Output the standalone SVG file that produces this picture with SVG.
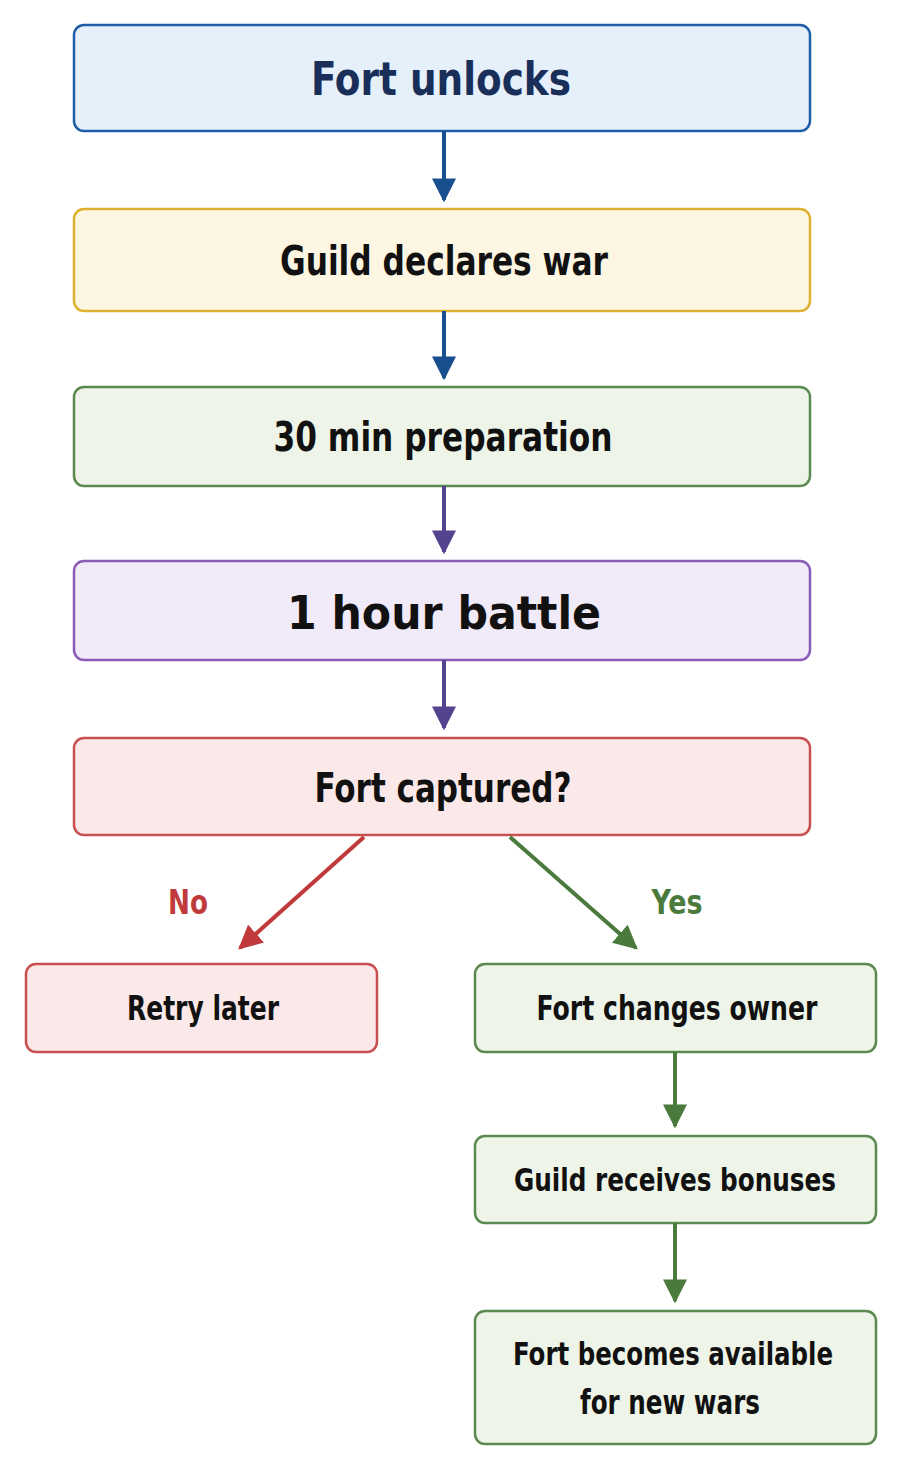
<svg xmlns="http://www.w3.org/2000/svg" width="900" height="1480" viewBox="0 0 900 1480">
<style>
text{font-family:"DejaVu Sans Condensed","DejaVu Sans",sans-serif;text-anchor:middle;dominant-baseline:central;fill:#111;font-weight:bold}
.b{stroke-width:2.5}
.c{stroke-width:4;fill:none}
</style>
<defs>
<marker id="ab" viewBox="0 0 10 10" refX="9" refY="5" markerWidth="6" markerHeight="6" orient="auto" markerUnits="strokeWidth"><path d="M0,0L10,5L0,10z" fill="#1a4f8f"/></marker>
<marker id="ap" viewBox="0 0 10 10" refX="9" refY="5" markerWidth="6" markerHeight="6" orient="auto" markerUnits="strokeWidth"><path d="M0,0L10,5L0,10z" fill="#54438f"/></marker>
<marker id="ar" viewBox="0 0 10 10" refX="9" refY="5" markerWidth="6" markerHeight="6" orient="auto" markerUnits="strokeWidth"><path d="M0,0L10,5L0,10z" fill="#c0393b"/></marker>
<marker id="ag" viewBox="0 0 10 10" refX="9" refY="5" markerWidth="6" markerHeight="6" orient="auto" markerUnits="strokeWidth"><path d="M0,0L10,5L0,10z" fill="#4a7a3c"/></marker>
</defs>
<rect width="900" height="1480" fill="#fff"/>
<g id="n1"><rect class="b" x="74" y="25" width="736" height="106" rx="10" fill="#e6f0fb" stroke="#1f5fa8"/><text x="441" y="79" font-size="46" textLength="260" lengthAdjust="spacingAndGlyphs" style="fill:#1a2e5a">Fort unlocks</text></g>
<g id="n2"><rect class="b" x="74" y="209" width="736" height="102" rx="10" fill="#fdf6e3" stroke="#e0b030"/><text x="444" y="261" font-size="40" textLength="328" lengthAdjust="spacingAndGlyphs">Guild declares war</text></g>
<g id="n3"><rect class="b" x="74" y="387" width="736" height="99" rx="10" fill="#eef5e8" stroke="#5a8a50"/><text x="443" y="437" font-size="40" textLength="339" lengthAdjust="spacingAndGlyphs">30 min preparation</text></g>
<g id="n4"><rect class="b" x="74" y="561" width="736" height="99" rx="10" fill="#f1eaf8" stroke="#8a5cb8"/><text x="444" y="613" font-size="46" textLength="314" lengthAdjust="spacingAndGlyphs">1 hour battle</text></g>
<g id="n5"><rect class="b" x="74" y="738" width="736" height="97" rx="10" fill="#fbe8e8" stroke="#c85050"/><text x="443" y="788" font-size="40" textLength="257" lengthAdjust="spacingAndGlyphs">Fort captured?</text></g>
<g id="n6"><rect class="b" x="26" y="964" width="351" height="88" rx="10" fill="#fbe8e8" stroke="#c85050"/><text x="203" y="1008" font-size="34" textLength="152" lengthAdjust="spacingAndGlyphs">Retry later</text></g>
<g id="n7"><rect class="b" x="475" y="964" width="401" height="88" rx="10" fill="#eef5e8" stroke="#5a8a50"/><text x="677" y="1008" font-size="34" textLength="281" lengthAdjust="spacingAndGlyphs">Fort changes owner</text></g>
<g id="n8"><rect class="b" x="475" y="1136" width="401" height="87" rx="10" fill="#eef5e8" stroke="#5a8a50"/><text x="675" y="1180" font-size="32" textLength="322" lengthAdjust="spacingAndGlyphs">Guild receives bonuses</text></g>
<g id="n9"><rect class="b" x="475" y="1311" width="401" height="133" rx="10" fill="#eef5e8" stroke="#5a8a50"/><text x="673" y="1354" font-size="32" textLength="320" lengthAdjust="spacingAndGlyphs">Fort becomes available</text><text x="670" y="1402" font-size="34" textLength="180" lengthAdjust="spacingAndGlyphs">for new wars</text></g>
<g id="connectors">
<line class="c" x1="444" y1="131" x2="444" y2="200" stroke="#1a4f8f" marker-end="url(#ab)"/>
<line class="c" x1="444" y1="311" x2="444" y2="378" stroke="#1a4f8f" marker-end="url(#ab)"/>
<line class="c" x1="444" y1="486" x2="444" y2="552" stroke="#54438f" marker-end="url(#ap)"/>
<line class="c" x1="444" y1="660" x2="444" y2="728" stroke="#54438f" marker-end="url(#ap)"/>
<line class="c" x1="364" y1="837" x2="240" y2="948" stroke="#c0393b" marker-end="url(#ar)"/>
<line class="c" x1="510" y1="837" x2="636" y2="948" stroke="#4a7a3c" marker-end="url(#ag)"/>
<line class="c" x1="675" y1="1052" x2="675" y2="1126" stroke="#4a7a3c" marker-end="url(#ag)"/>
<line class="c" x1="675" y1="1223" x2="675" y2="1301" stroke="#4a7a3c" marker-end="url(#ag)"/>
<text x="188" y="902" font-size="34" textLength="40" lengthAdjust="spacingAndGlyphs" style="fill:#c0393b">No</text>
<text x="677" y="902" font-size="34" textLength="51" lengthAdjust="spacingAndGlyphs" style="fill:#4a7a3c">Yes</text>
</g>
</svg>
